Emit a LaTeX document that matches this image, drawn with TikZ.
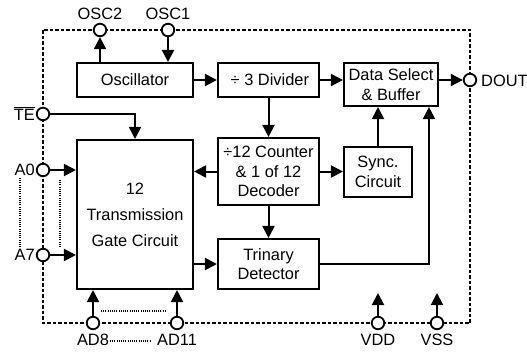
\documentclass[tikz,border=0pt]{standalone}
\usepackage{fontspec}
\setmainfont{Liberation Sans}
\usetikzlibrary{arrows.meta}
\begin{document}
\begin{tikzpicture}[x=1pt,y=-1pt,
  box/.style={draw,line width=2.1pt,rectangle,inner sep=0pt,align=center,font=\fontsize{16.4}{19.5}\selectfont},
  pin/.style={draw,circle,line width=1.8pt,fill=white,minimum size=12.5pt,inner sep=0pt},
  arr/.style={line width=2pt,-{Triangle[length=12pt,width=12pt]}},
  bound/.style={line width=1.5pt,dash pattern=on 3.5pt off 2pt},
  dots/.style={line width=1.3pt,dash pattern=on 1pt off 1.2pt},
  lbl/.style={font=\fontsize{16.4}{19}\selectfont,inner sep=1pt}]
\useasboundingbox (0,0) rectangle (527,351);
% boundary
\draw[bound] (43,30) rectangle (470,323);
% boxes
\node[box,minimum width=116pt,minimum height=34pt] (osc) at (135,80) {Oscillator};
\node[box,minimum width=101pt,minimum height=34pt] (div) at (268.5,80) {\,÷ 3 Divider};
\node[box,minimum width=94pt,minimum height=43pt] (ds) at (391,84.5) {Data Select\\\& Buffer};
\node[box,minimum width=116pt,minimum height=149pt,font=\fontsize{16.4}{26}\selectfont] (gate) at (135,214.5) {12\\Transmission\\Gate Circuit};
\node[box,minimum width=101pt,minimum height=67pt] (cnt) at (268.5,171.5) {÷12 Counter\\\& 1 of 12\\Decoder};
\node[box,minimum width=68pt,minimum height=50pt] (sync) at (378,172) {Sync.\\Circuit};
\node[box,minimum width=101pt,minimum height=50pt] (tri) at (268.5,264) {Trinary\\Detector};
% pins
\node[pin] (o2) at (100,30) {};
\node[pin] (o1) at (168,30) {};
\node[pin] (dout) at (470,80) {};
\node[pin] (te) at (43,114) {};
\node[pin] (a0) at (43,170) {};
\node[pin] (a7) at (43,255) {};
\node[pin] (ad8) at (93,323) {};
\node[pin] (ad11) at (177,323) {};
\node[pin] (vdd) at (378,323) {};
\node[pin] (vss) at (437,323) {};
\coordinate (vddt) at (378,293);
\coordinate (vsst) at (437,293);
% labels
\node[lbl] at (o2 |- 0,14) {OSC2};
\node[lbl] at (o1 |- 0,14) {OSC1};
\node[lbl,anchor=west] at (480,81) {DOUT};
\node[lbl,anchor=east] (telbl) at (36,115) {TE};
\draw[line width=1.3pt] ([xshift=1pt,yshift=0.5pt]telbl.north west) -- ([xshift=-1pt,yshift=0.5pt]telbl.north east);
\node[lbl,anchor=east] at (36,170) {A0};
\node[lbl,anchor=east] at (36,255) {A7};
\node[lbl] at (ad8 |- 0,340) {AD8};
\node[lbl] at (ad11 |- 0,340) {AD11};
\node[lbl] at (vdd |- 0,340) {VDD};
\node[lbl] at (vss |- 0,340) {VSS};
% connectors
\draw[arr] (osc.north -| o2) -- (o2);
\draw[arr] (o1) -- (osc.north -| o1);
\draw[arr] (osc) -- (div);
\draw[arr] (div.east) -- (ds.west |- div.east);
\draw[arr] (ds.east |- dout) -- (dout);
\draw[arr] (te) -| (gate.north);
\draw[arr] (a0) -- (gate.west |- a0);
\draw[arr] (a7) -- (gate.west |- a7);
\draw[arr] (div.south) -- (cnt.north);
\draw[arr] (cnt.west) -- (gate.east |- cnt.west);
\draw[arr] (cnt.east) -- (sync.west |- cnt.east);
\draw[arr] (sync.north) -- (ds.south -| sync.north);
\draw[arr] (cnt.south) -- (tri.north);
\draw[arr] (gate.east |- tri.west) -- (tri.west);
\draw[arr] (tri.east) -| ([xshift=38pt]ds.south);
\draw[arr] (ad8) -- (gate.south -| ad8);
\draw[arr] (ad11) -- (gate.south -| ad11);
\draw[arr] (vdd) -- (vddt);
\draw[arr] (vss) -- (vsst);
% dotted indicators
\draw[dots] (20,178) -- (20,248);
\draw[dots] (60,180) -- (60,248);
\draw[dots] (101,311) -- (166,311);
\draw[dots] (110,341) -- (150,341);
\end{tikzpicture}
\end{document}
